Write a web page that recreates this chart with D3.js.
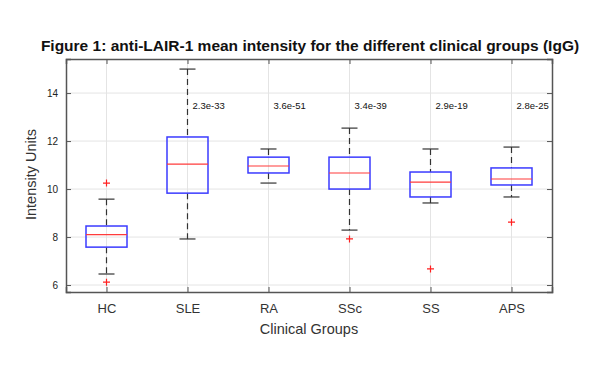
<!DOCTYPE html>
<html>
<head>
<meta charset="utf-8">
<script src="https://cdn.jsdelivr.net/npm/d3@7"></script>
<style>
  body { margin: 0; background: #fff; }
  text { font-family: "Liberation Sans", Arial, sans-serif; }
</style>
</head>
<body>
<div id="chart-area"></div>
<script>
const groups = ["HC", "SLE", "RA", "SSc", "SS", "APS"]
const lowWhisker = [6.46, 7.92, 10.25, 8.29, 9.42, 9.67]
const q1 = [7.58, 9.83, 10.67, 10.0, 9.67, 10.17]
const medians = [8.1, 11.04, 10.96, 10.67, 10.29, 10.42]
const q3 = [8.46, 12.17, 11.33, 11.33, 10.71, 10.88]
const highWhisker = [9.58, 15.0, 11.67, 12.54, 11.67, 11.75]
const outliers = [[10.25, 6.12], [], [], [7.92], [6.67], [8.62]]
const pValues = ["", "2.3e-33", "3.6e-51", "3.4e-39", "2.9e-19", "2.8e-25"]
const yTicks = [6, 8, 10, 12, 14]

const MARGIN = { LEFT: 66, RIGHT: 57, TOP: 59, BOTTOM: 78 }
const WIDTH = 609 - MARGIN.LEFT - MARGIN.RIGHT
const HEIGHT = 370 - MARGIN.TOP - MARGIN.BOTTOM

const svg = d3.select("#chart-area").append("svg")
  .attr("width", 609)
  .attr("height", 370)

svg.append("text")
  .attr("x", 310)
  .attr("y", 51)
  .attr("text-anchor", "middle")
  .attr("font-weight", "bold")
  .attr("font-size", "15.5px")
  .attr("fill", "#111")
  .text("Figure 1: anti-LAIR-1 mean intensity for the different clinical groups (IgG)")

const g = svg.append("g")
  .attr("transform", `translate(${MARGIN.LEFT}, ${MARGIN.TOP})`)

// scales
const x = d3.scalePoint().domain(groups).range([0, WIDTH]).padding(0.5)
const y = d3.scaleLinear().domain([5.71, 15.42]).range([HEIGHT, 0])

// gridlines
g.append("g").selectAll("line.gy").data(yTicks).join("line")
  .attr("x1", 0).attr("x2", WIDTH)
  .attr("y1", d => y(d)).attr("y2", d => y(d))
  .attr("stroke", "#e4e4e4")
g.append("g").selectAll("line.gx").data(groups).join("line")
  .attr("y1", 0).attr("y2", HEIGHT)
  .attr("x1", d => x(d)).attr("x2", d => x(d))
  .attr("stroke", "#e4e4e4")

// axes (ticks inside, matlab style)
const yAxis = g.append("g").call(d3.axisLeft(y).tickValues(yTicks).tickSize(-5).tickPadding(8))
const yAxisR = g.append("g").attr("transform", `translate(${WIDTH},0)`)
  .call(d3.axisRight(y).tickValues(yTicks).tickSize(-5).tickFormat(""))
const xAxis = g.append("g").attr("transform", `translate(0,${HEIGHT})`)
  .call(d3.axisBottom(x).tickSize(-5).tickPadding(12))
const xAxisT = g.append("g")
  .call(d3.axisTop(x).tickSize(-5).tickFormat(""))

for (const ax of [yAxis, yAxisR, xAxis, xAxisT]) {
  ax.select(".domain").attr("stroke", "#555").attr("stroke-width", 1.5)
  ax.selectAll(".tick line").attr("stroke", "#555")
}
yAxis.selectAll(".tick text")
  .attr("font-family", "DejaVu Sans, sans-serif")
  .attr("font-size", "10px").attr("fill", "#222")
xAxis.selectAll(".tick text")
  .attr("font-size", "13px").attr("fill", "#333")

// axis labels
g.append("text")
  .attr("transform", `translate(-30, ${HEIGHT / 2 - 1}) rotate(-90)`)
  .attr("text-anchor", "middle")
  .attr("font-size", "14.5px").attr("fill", "#333")
  .text("Intensity Units")
g.append("text")
  .attr("x", WIDTH / 2).attr("y", HEIGHT + 42)
  .attr("text-anchor", "middle")
  .attr("font-size", "14.5px").attr("fill", "#333")
  .text("Clinical Groups")

// boxes
const BOX_W = 41
const CAP_W = 16
const boxes = g.append("g").selectAll("g.box").data(groups).join("g")
  .attr("transform", d => `translate(${x(d)},0)`)

boxes.append("line")
  .attr("y1", (d, i) => y(highWhisker[i])).attr("y2", (d, i) => y(q3[i]))
  .attr("stroke", "#333").attr("stroke-width", 1.2).attr("stroke-dasharray", "6,4")
boxes.append("line")
  .attr("y1", (d, i) => y(q1[i])).attr("y2", (d, i) => y(lowWhisker[i]))
  .attr("stroke", "#333").attr("stroke-width", 1.2).attr("stroke-dasharray", "6,4")
boxes.append("line")
  .attr("x1", -CAP_W / 2).attr("x2", CAP_W / 2)
  .attr("y1", (d, i) => y(highWhisker[i])).attr("y2", (d, i) => y(highWhisker[i]))
  .attr("stroke", "#333").attr("stroke-width", 1.2)
boxes.append("line")
  .attr("x1", -CAP_W / 2).attr("x2", CAP_W / 2)
  .attr("y1", (d, i) => y(lowWhisker[i])).attr("y2", (d, i) => y(lowWhisker[i]))
  .attr("stroke", "#333").attr("stroke-width", 1.2)
boxes.append("rect")
  .attr("x", -BOX_W / 2).attr("width", BOX_W)
  .attr("y", (d, i) => y(q3[i]))
  .attr("height", (d, i) => y(q1[i]) - y(q3[i]))
  .attr("fill", "none").attr("stroke", "#3b3bff").attr("stroke-width", 1.5)
boxes.append("line")
  .attr("x1", -BOX_W / 2).attr("x2", BOX_W / 2)
  .attr("y1", (d, i) => y(medians[i])).attr("y2", (d, i) => y(medians[i]))
  .attr("stroke", "#ff3b3b").attr("stroke-width", 1.2)

// outliers
boxes.each(function (d, i) {
  const sel = d3.select(this)
  outliers[i].forEach(v => {
    sel.append("path")
      .attr("d", `M-3.5,${y(v)}h7M0,${y(v) - 3.5}v7`)
      .attr("stroke", "#ff2020").attr("stroke-width", 1.2)
  })
})

// p-values
boxes.append("text")
  .attr("x", 5).attr("y", y(13.5) + 4)
  .attr("font-family", "DejaVu Sans, sans-serif")
  .attr("font-size", "9.5px").attr("fill", "#111")
  .text((d, i) => pValues[i])
</script>
</body>
</html>
